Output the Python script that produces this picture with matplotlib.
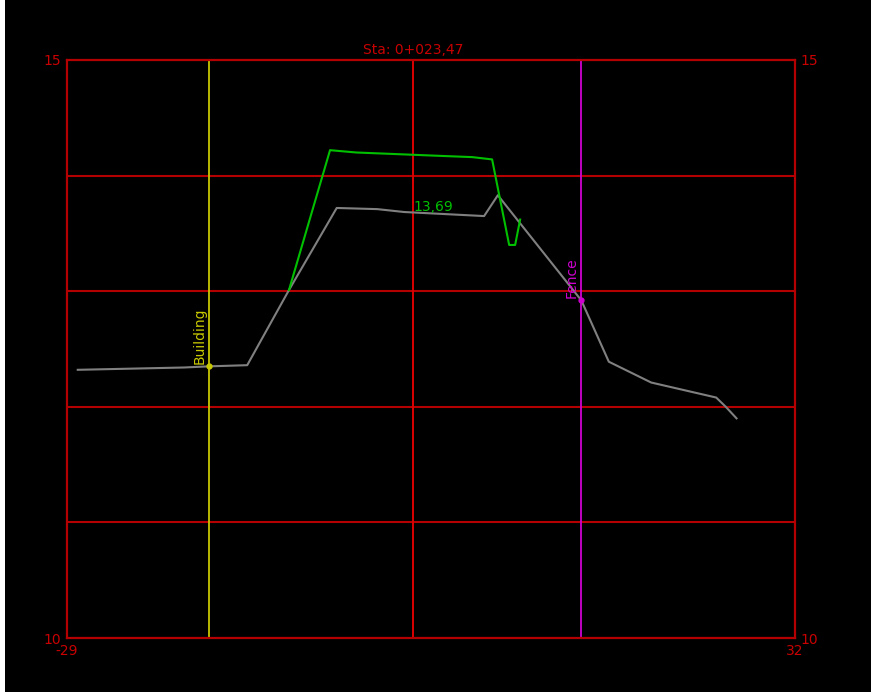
import matplotlib
matplotlib.use("Agg")
import matplotlib.pyplot as plt
from matplotlib.patches import Rectangle

# Profile data (offset, elevation)
ground_x = [-28.1, -19.2, -17.1, -13.9, -10.4, -6.4, -3.0, -0.75, 5.95, 7.1, 14.1, 16.4, 19.95, 25.4, 26.2, 27.1]
ground_y = [12.32, 12.34, 12.35, 12.36, 13.01, 13.72, 13.71, 13.685, 13.65, 13.83, 12.92, 12.39, 12.21, 12.08, 12.0, 11.9]

design_x = [-10.4, -6.96, -4.78, 2.43, 4.95, 6.62, 8.05, 8.55, 8.97]
design_y = [13.01, 14.22, 14.20, 14.17, 14.16, 14.14, 13.40, 13.40, 13.62]

# Features
features = ["Building", "Fence"]
feature_x = [-17.1, 14.1]
feature_y = [12.35, 12.92]
feature_colors = ["#c8c800", "#d000d0"]

x_range = [-29, 32]
y_range = [10, 15]
grid_y = [11, 12, 13, 14]
station = "Sta: 0+023,47"
center_label = "13,69"
center_elev = 13.69

red = "#c80000"
grid_red = "#b40000"

fig = plt.figure(figsize=(8.71, 6.92), dpi=100, facecolor="black")
fig.patches.append(Rectangle((0, 0), 5 / 871, 1, transform=fig.transFigure,
                             facecolor="white", edgecolor="none"))
ax = fig.add_axes([67 / 871, 54 / 692, 728 / 871, 578 / 692])
ax.set_facecolor("black")
ax.set_xlim(x_range)
ax.set_ylim(y_range)

for s in ax.spines.values():
    s.set_color(grid_red)
    s.set_linewidth(1.6)

# grid
for gy in grid_y:
    ax.axhline(gy, color=grid_red, lw=1.5, zorder=1)
ax.axvline(0, color="#dc0000", lw=1.4, zorder=1)

# ticks at ends only
ax.set_xticks(x_range)
ax.set_xticklabels([str(v) for v in x_range])
ax.set_yticks(y_range)
ax.set_yticklabels([str(v) for v in y_range])
ax.tick_params(axis="both", length=0, colors=red, labelsize=10)
ax.tick_params(axis="x", pad=4)
ax.tick_params(axis="y", pad=4, labelright=True)

# features
for name, fx, fy, c in zip(features, feature_x, feature_y, feature_colors):
    ax.axvline(fx, color=c, lw=1.3, zorder=2)
    ax.plot(fx, fy, "o", color=c, ms=3.5, zorder=5)
    ax.text(fx - 0.2, fy + 0.02, name, color=c, fontsize=10, rotation=90,
            ha="right", va="bottom", zorder=5)

# lines
ax.plot(ground_x, ground_y, color="#808080", lw=1.5, zorder=3)
ax.plot(design_x, design_y, color="#00c000", lw=1.5, zorder=4)

ax.text(0, center_elev, center_label, color="#00c000", fontsize=10,
        ha="left", va="baseline", zorder=6)
ax.text(0, y_range[1] + 0.03, station, color=red, fontsize=10,
        ha="center", va="bottom")

fig.savefig("out.png", dpi=100, facecolor="black")
